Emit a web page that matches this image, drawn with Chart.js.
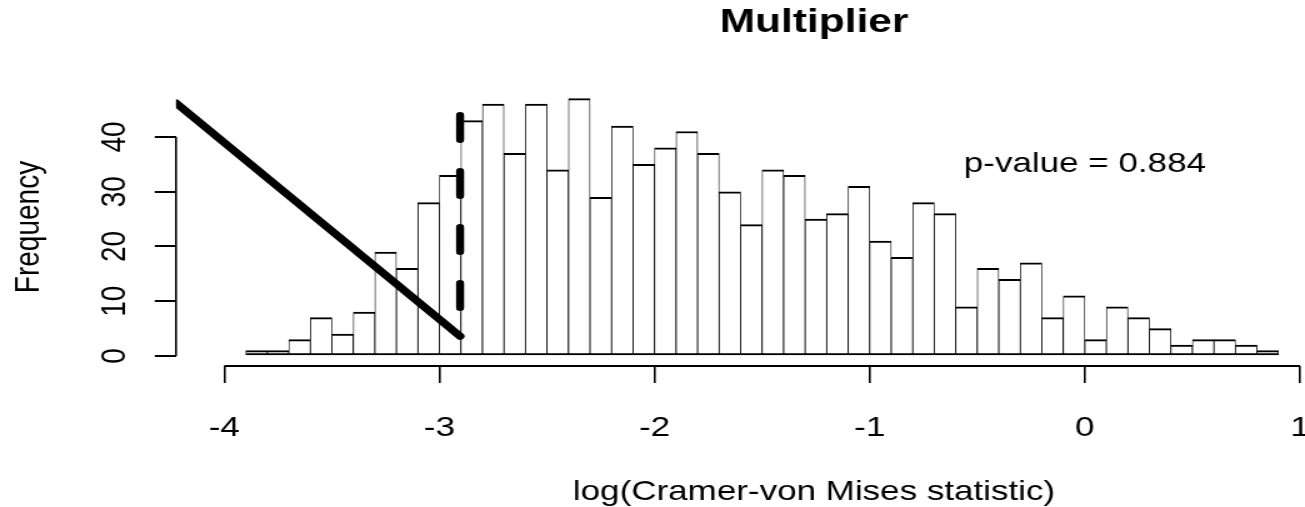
<!DOCTYPE html>
<html>
<head>
<meta charset="utf-8">
<title>Multiplier</title>
<script src="https://cdn.jsdelivr.net/npm/chart.js@4.4.1/dist/chart.umd.min.js"></script>
<style>
  html, body { margin: 0; padding: 0; background: #fff; overflow: hidden; }
</style>
</head>
<body>
<!-- the reference is an R png that was stretched sideways, so the canvas is drawn
     narrower and widened by its inline style (Chart.js leaves an inline size alone) -->
<canvas id="hist" width="1044" height="507" style="display:block;width:1305px;height:507px"></canvas>
<script>
// histogram bins (width 0.1) and counts
const binMids = [
    -3.85, -3.75, -3.65, -3.55, -3.45, -3.35, -3.25, -3.15, -3.05, -2.95,
    -2.85, -2.75, -2.65, -2.55, -2.45, -2.35, -2.25, -2.15, -2.05, -1.95,
    -1.85, -1.75, -1.65, -1.55, -1.45, -1.35, -1.25, -1.15, -1.05, -0.95,
    -0.85, -0.75, -0.65, -0.55, -0.45, -0.35, -0.25, -0.15, -0.05, 0.05,
    0.15, 0.25, 0.35, 0.45, 0.55, 0.65, 0.75, 0.85
];
const counts = [
    1, 1, 3, 7, 4, 8, 19, 16, 28, 33,
    43, 46, 37, 46, 34, 47, 29, 42, 35, 38,
    41, 37, 30, 24, 34, 33, 25, 26, 31, 21,
    18, 28, 26, 9, 16, 14, 17, 7, 11, 3,
    9, 7, 5, 2, 3, 3, 2, 1
];

// observed statistic: dashed marker and the slanted line pointing at it
const observedStat = -2.904;
const markerSpan = [44, 3.6];
const pointerLine = [{ x: -4.2245, y: 46.2 }, { x: observedStat, y: 3.6 }];

const xTicks = [-4, -3, -2, -1, 0, 1];
const yTicks = [0, 10, 20, 30, 40];
const xRange = [-4.2245, 1.0232];
const yRange = [-1.83, 48.95];

// the R plot region runs past the crop on the right; its centre is here
const plotMid = -1.259;
const mainTitle = "Multiplier";
const xTitle = "log(Cramer-von Mises statistic)";
const pText = "p-value = 0.884";
const pAt = { x: 0, y: 35 };

const fontFamily = '"Liberation Sans", Arial, Helvetica, sans-serif';
Chart.defaults.font.family = fontFamily;
Chart.defaults.color = "#000";

// R style axis lines (first to last tick only), titles and the p-value text
const rAxes = {
    id: "rAxes",
    afterDraw(chart) {
        const { ctx, chartArea } = chart;
        const x = chart.scales.x;
        const y = chart.scales.y;
        ctx.save();
        ctx.strokeStyle = "#000";
        ctx.lineWidth = 2;
        ctx.beginPath();
        ctx.moveTo(x.getPixelForValue(xTicks[0]), chartArea.bottom);
        ctx.lineTo(x.getPixelForValue(xTicks[xTicks.length - 1]), chartArea.bottom);
        ctx.stroke();
        ctx.lineWidth = 1.6;
        ctx.beginPath();
        ctx.moveTo(chartArea.left, y.getPixelForValue(yTicks[0]));
        ctx.lineTo(chartArea.left, y.getPixelForValue(yTicks[yTicks.length - 1]));
        ctx.stroke();

        ctx.fillStyle = "#000";
        ctx.textAlign = "center";
        const mid = x.getPixelForValue(plotMid);
        ctx.textBaseline = "alphabetic";
        ctx.font = "bold 34px " + fontFamily;
        ctx.fillText(mainTitle, mid, 32);
        ctx.font = "28px " + fontFamily;
        ctx.fillText(xTitle, mid, 500);
        ctx.textBaseline = "middle";
        ctx.fillText(pText, x.getPixelForValue(pAt.x), y.getPixelForValue(pAt.y));
        ctx.restore();
    },
};

new Chart(document.getElementById("hist"), {
    type: "bar",
    data: {
        datasets: [
            {
                type: "line",
                data: pointerLine,
                borderColor: "#000",
                borderWidth: 7,
                borderCapStyle: "round",
                pointRadius: 0,
                clip: 0,
                order: 0,
            },
            {
                type: "line",
                data: markerSpan.map((v) => ({ x: observedStat, y: v })),
                borderColor: "#000",
                borderWidth: 6.4,
                borderDash: [24.6, 31.4],
                borderCapStyle: "round",
                pointRadius: 0,
                clip: 0,
                order: 1,
            },
            {
                label: "Frequency",
                data: binMids.map((m, i) => ({ x: m, y: counts[i] })),
                backgroundColor: "#fff",
                borderColor: "#000",
                borderWidth: { top: 2, bottom: 2, left: 0.8, right: 0.8 },
                borderSkipped: false,
                barPercentage: 1,
                categoryPercentage: 1,
                order: 2,
            },
        ],
    },
    options: {
        responsive: false,
        devicePixelRatio: 1,
        animation: false,
        events: [],
        layout: {
            padding: { top: 88, left: 0, bottom: 0, right: 0 },
        },
        scales: {
            x: {
                type: "linear",
                min: xRange[0],
                max: xRange[1],
                offset: false,
                grid: {
                    offset: false,
                    drawOnChartArea: false,
                    drawTicks: true,
                    tickLength: 17,
                    color: "#000",
                    lineWidth: 1.6,
                },
                border: { display: false },
                afterBuildTicks: (scale) => {
                    scale.ticks = xTicks.map((v) => ({ value: v }));
                },
                afterFit: (scale) => {
                    scale.height = 141;
                    scale.paddingLeft = 0;
                    scale.paddingRight = 0;
                },
                ticks: {
                    padding: 28,
                    maxRotation: 0,
                    font: { size: 28 },
                    callback: (v) => String(v),
                },
            },
            y: {
                min: yRange[0],
                max: yRange[1],
                grid: {
                    drawOnChartArea: false,
                    drawTicks: true,
                    tickLength: 17,
                    color: "#000",
                    lineWidth: 2,
                },
                border: { display: false },
                afterBuildTicks: (scale) => {
                    scale.ticks = yTicks.map((v) => ({ value: v }));
                },
                afterFit: (scale) => {
                    scale.width = 140.8;
                    scale.paddingTop = 0;
                    scale.paddingBottom = 0;
                },
                ticks: {
                    padding: 16,
                    minRotation: 90,
                    maxRotation: 90,
                    crossAlign: "center",
                    font: { size: 28 },
                    callback: (v) => String(v),
                },
                title: {
                    display: true,
                    text: "Frequency",
                    font: { size: 28 },
                    padding: { top: 6.4, bottom: 0 },
                },
            },
        },
        plugins: {
            legend: { display: false },
            tooltip: { enabled: false },
            title: { display: false },
        },
    },
    plugins: [rAxes],
});
</script>
</body>
</html>
